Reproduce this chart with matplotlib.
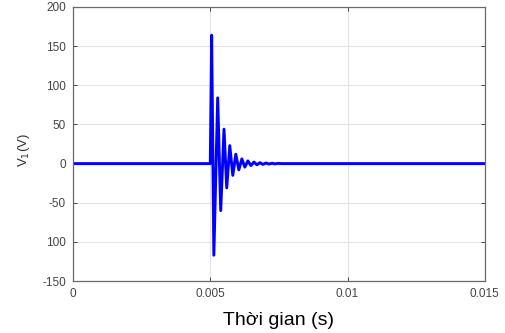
import matplotlib
matplotlib.use("Agg")
import matplotlib.pyplot as plt

# thoi gian (s) va dien ap V1 (V) tai cac dinh cua dao dong
thoi_gian = [0.0, 0.00500, 0.00505, 0.00513, 0.00527, 0.00538, 0.00550,
             0.00560, 0.00571, 0.00582, 0.00593, 0.00604, 0.00615, 0.00626,
             0.00637, 0.00648, 0.00659, 0.00670, 0.00681, 0.00692, 0.00703,
             0.00714, 0.00725, 0.00736, 0.00747, 0.00760, 0.015]
dien_ap = [0, 0, 164, -117, 84, -60, 44, -31, 23, -15, 12, -8, 6, -4.5,
           3.5, -2.5, 2, -1.5, 1.2, -1, 0.8, -0.6, 0.5, -0.4, 0.3, 0, 0]

xticks = [0, 0.005, 0.01, 0.015]
xticklabels = ["0", "0.005", "0.01", "0.015"]
yticks = [200, 150, 100, 50, 0, -50, -100, -150]
yticklabels = ["200", "150", "100", "50", "0", "-50", "100", "-150"]

plt.rcParams['font.family'] = ['Liberation Sans', 'DejaVu Sans']

fig = plt.figure(figsize=(5.05, 3.33), dpi=100)
ax = fig.add_axes([0.1446, 0.156, 0.8154, 0.823])

ax.plot(thoi_gian, dien_ap, color="#0000ff", linewidth=2.1)

ax.set_xlim(0, 0.015)
ax.set_ylim(-150, 200)
ax.set_xticks(xticks)
ax.set_xticklabels(xticklabels)
ax.set_yticks(yticks)
ax.set_yticklabels(yticklabels)

ax.grid(True, color="#e3e3e3", linewidth=0.8)
ax.set_axisbelow(True)
ax.tick_params(direction="in", length=3, width=0.7, top=True, right=True,
               labelsize=8.5, colors="#454545", pad=5)
for s in ax.spines.values():
    s.set_color("#6a6a6a")
    s.set_linewidth(0.9)

ax.set_ylabel("V$_1$(V)", fontsize=9.5, color="#303030")
ax.yaxis.set_label_coords(-0.10, 0.48)
ax.set_xlabel("Thời gian (s)", fontsize=14, color="black", labelpad=9)

fig.savefig("out.png", dpi=100)
